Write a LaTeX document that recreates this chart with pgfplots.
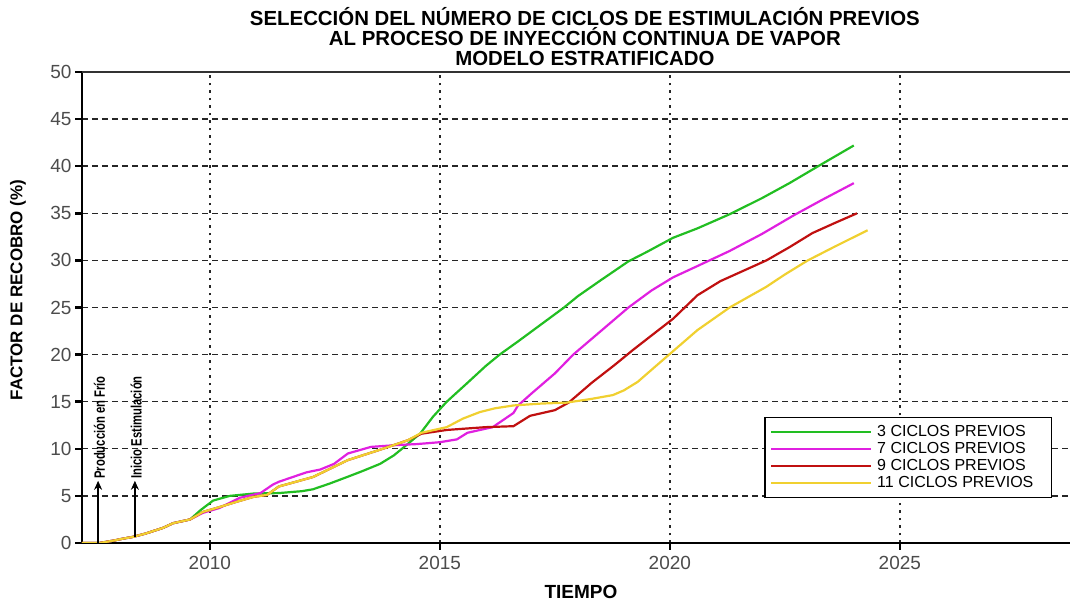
\documentclass[border=0pt]{standalone}
\usepackage{pgfplots}
\pgfplotsset{compat=1.18}
\usepackage{fontspec}
\setmainfont{Liberation Sans}
\newfontfamily\narrowfont{Liberation Sans}[FakeStretch=0.75]
\usetikzlibrary{arrows.meta}
\definecolor{cgreen}{RGB}{34,190,34}
\definecolor{cmag}{RGB}{224,32,224}
\definecolor{cred}{RGB}{192,16,16}
\definecolor{cyel}{RGB}{240,208,48}
\begin{document}
\begin{tikzpicture}
\begin{axis}[
  name=ax,
  scale only axis, width=988pt, height=471pt,
  xmin=2007.22, xmax=2028.7, ymin=0, ymax=50,
  axis x line=bottom, axis y line=left,
  axis line style={-, line width=2.5pt, black},
  xtick={2010,2015,2020,2025}, ytick={0,5,...,50},
  tick align=outside, major tick length=7pt,
  tick style={line width=2.5pt, black},
  xticklabel style={/pgf/number format/1000 sep={}, font=\fontsize{19}{19}\selectfont, text=black!70, yshift=-3pt},
  yticklabel style={font=\fontsize{19}{19}\selectfont, text=black!70},
  /pgf/number format/assume math mode=true,
  ymajorgrids, xmajorgrids,
  y grid style={black!85, line width=1.4pt, dash pattern=on 6pt off 4pt},
  x grid style={black!85, line width=2.4pt, dash pattern=on 2.5pt off 5pt},
  clip mode=individual,
  legend style={at={(0.9818,0.2675)}, anchor=north east, draw=black, line width=1.2pt,
    font=\fontsize{16}{17}\selectfont, inner xsep=5pt, inner ysep=6pt,
    nodes={inner sep=1pt, text height=11.5pt, text depth=3.5pt},
    /tikz/every odd column/.style={column sep=4pt}},
  legend cell align=left,
  legend image code/.code={\draw[#1] (0pt,0pt) -- (100pt,0pt);},
  every axis plot/.append style={line width=2.2pt},
]
\addplot[cgreen] coordinates {
(2007.22,0) (2007.6,0) (2007.9,0.25) (2008.1,0.45) (2008.33,0.65) (2008.6,1.0) (2008.98,1.6) (2009.2,2.1) (2009.57,2.5)
(2009.8,3.5) (2010.07,4.5) (2010.43,5.0) (2010.95,5.25) (2011.5,5.3) (2012.0,5.5) (2012.24,5.7) (2012.6,6.3)
(2012.98,7.0) (2013.3,7.6) (2013.7,8.4) (2014.0,9.3) (2014.2,10.1) (2014.57,11.6) (2014.85,13.4) (2015.15,15.0)
(2015.6,17.0) (2016.0,18.8) (2016.3,20.0) (2016.7,21.4) (2017.2,23.2) (2017.7,25.0) (2018.0,26.2) (2018.5,27.9)
(2019.1,29.9) (2019.5,30.9) (2020.07,32.4) (2020.6,33.4) (2021.3,34.9) (2022.0,36.6) (2022.6,38.2) (2023.26,40.1) (2024.0,42.2)
};
\addlegendentry{3 CICLOS PREVIOS\hspace*{12pt}}
\addplot[cmag] coordinates {
(2007.22,0) (2007.6,0) (2007.9,0.25) (2008.1,0.45) (2008.33,0.65) (2008.6,1.0) (2008.98,1.6) (2009.2,2.1) (2009.57,2.5)
(2009.85,3.2) (2010.2,3.7) (2010.65,4.8) (2011.1,5.3) (2011.37,6.2) (2011.5,6.5) (2012.1,7.5) (2012.4,7.8) (2012.7,8.4)
(2013.0,9.5) (2013.5,10.2) (2014.07,10.4) (2014.5,10.5) (2015.0,10.7) (2015.37,11.0) (2015.6,11.7) (2016.15,12.3)
(2016.6,13.8) (2016.7,14.6) (2017.0,15.9) (2017.5,18.0) (2017.9,20.0) (2018.5,22.5) (2019.1,25.0) (2019.6,26.8)
(2020.07,28.2) (2020.6,29.4) (2021.3,31.0) (2022.0,32.8) (2022.7,34.8) (2023.3,36.4) (2024.0,38.2)
};
\addlegendentry{7 CICLOS PREVIOS\hspace*{12pt}}
\addplot[cred] coordinates {
(2007.22,0) (2007.6,0) (2007.9,0.25) (2008.1,0.45) (2008.33,0.65) (2008.6,1.0) (2008.98,1.6) (2009.2,2.1) (2009.57,2.5)
(2009.85,3.3) (2010.2,3.8) (2010.6,4.4) (2010.95,4.9) (2011.24,5.1) (2011.5,6.0) (2012.24,7.0) (2013.0,8.8) (2013.7,9.9)
(2014.3,10.9) (2014.6,11.6) (2015.15,12.0) (2016.0,12.3) (2016.6,12.4) (2016.96,13.5) (2017.5,14.1) (2017.8,14.9)
(2018.3,17.0) (2018.8,18.9) (2019.2,20.5) (2019.7,22.4) (2020.07,23.8) (2020.6,26.3) (2021.1,27.8) (2021.6,28.9)
(2022.1,30.0) (2022.6,31.4) (2023.1,32.9) (2023.6,34.0) (2024.07,35.0)
};
\addlegendentry{9 CICLOS PREVIOS\hspace*{12pt}}
\addplot[cyel] coordinates {
(2007.22,0) (2007.6,0) (2007.9,0.25) (2008.1,0.45) (2008.33,0.65) (2008.6,1.0) (2008.98,1.6) (2009.2,2.1) (2009.57,2.5)
(2009.85,3.3) (2010.2,3.8) (2010.6,4.4) (2010.95,4.9) (2011.24,5.1) (2011.5,6.0) (2012.24,7.0) (2013.0,8.8) (2013.7,9.9)
(2014.3,10.9) (2014.6,11.7) (2015.15,12.3) (2015.5,13.2) (2015.87,13.9) (2016.2,14.3) (2016.6,14.6) (2017.2,14.8)
(2017.75,14.9) (2018.3,15.3) (2018.76,15.7) (2019.0,16.2) (2019.3,17.1) (2019.7,18.8) (2020.15,20.7) (2020.6,22.6)
(2021.3,25.0) (2022.1,27.2) (2022.5,28.5) (2023.0,30.0) (2023.6,31.5) (2024.3,33.2)
};
\addlegendentry{11 CICLOS PREVIOS\hspace*{12pt}}
% annotations
\draw[-{Stealth[length=9pt,width=8pt]}, line width=1.8pt] (axis cs:2007.57,0) -- (axis cs:2007.57,6.6);
\draw[-{Stealth[length=9pt,width=8pt]}, line width=1.8pt] (axis cs:2008.37,0.6) -- (axis cs:2008.37,6.6);
\node[rotate=90, anchor=west, inner sep=1pt, font=\fontsize{15}{15}\narrowfont\bfseries] at (axis cs:2007.6,6.7) {Producción en Frío};
\node[rotate=90, anchor=west, inner sep=1pt, font=\fontsize{15}{15}\narrowfont\bfseries] at (axis cs:2008.4,6.7) {Inicio Estimulación};
% top border
\draw[line width=2pt, black!80] (rel axis cs:0,1) -- (rel axis cs:1,1);
% titles
\node[align=center, font=\fontsize{20.4}{20}\selectfont\bfseries] at ([yshift=35pt]rel axis cs:0.509,1) {SELECCIÓN DEL NÚMERO DE CICLOS DE ESTIMULACIÓN PREVIOS\\AL PROCESO DE INYECCIÓN CONTINUA DE VAPOR\\MODELO ESTRATIFICADO};
\node[rotate=90, font=\fontsize{17}{17}\selectfont\bfseries] at ([xshift=-64pt]rel axis cs:0,0.537) {FACTOR DE RECOBRO (\%)};
\node[font=\fontsize{19}{19}\selectfont\bfseries] at ([yshift=-49pt]rel axis cs:0.505,0) {TIEMPO};
\end{axis}
\path ([shift={(-82pt,-60pt)}]ax.south west) rectangle ([shift={(3pt,72pt)}]ax.north east);
\end{tikzpicture}
\end{document}
